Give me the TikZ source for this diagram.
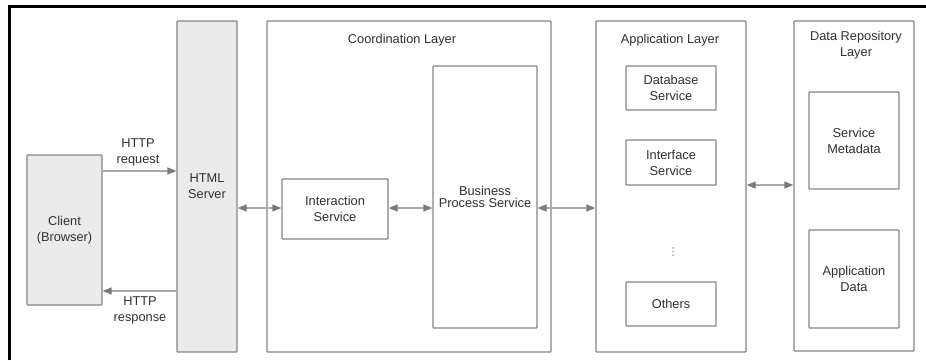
\documentclass[tikz,border=0pt]{standalone}
\usepackage{fontspec}
\setmainfont{Liberation Sans}
\newfontfamily\dejavu{DejaVu Sans}
\usetikzlibrary{arrows.meta}
\definecolor{edge}{HTML}{858585}
\definecolor{fillg}{HTML}{EBEBEB}
\definecolor{arrc}{HTML}{A8A8A8}
\definecolor{headc}{HTML}{7A7A7A}
\definecolor{txt}{HTML}{303030}
\begin{document}
\begin{tikzpicture}[x=1pt,y=-1pt,
  every node/.style={font=\fontsize{12.8}{16}\selectfont, text=txt, align=center, inner sep=0pt},
  box/.style={draw=edge, line width=1.3pt, fill=white, rounded corners=0.8pt},
  gbox/.style={box, fill=fillg},
  lbl/.style={},
  arr/.style={draw=arrc, line width=1.3pt, -{Triangle[length=9pt,width=7pt,color=headc]}},
  darr/.style={draw=arrc, line width=1.3pt, {Triangle[length=9pt,width=7pt,color=headc]}-{Triangle[length=9pt,width=7pt,color=headc]}},
  frame/.style={draw=black, line width=3pt}]
\useasboundingbox (0,0) rectangle (926,360);
% frame (top and left only)
\coordinate (f1) at (9,360);
\coordinate (f2) at (9,6);
\coordinate (f3) at (926,6);
\draw[frame] (f1) -- (f2) -- (f3);
% boxes
\node[gbox, minimum width=75, minimum height=150] (client) at (64.5,230) {Client\\(Browser)};
\node[gbox, minimum width=60, minimum height=331] (html) at (207,186.5) {HTML\\Server};
\node[box, minimum width=284, minimum height=331] (coord) at (409,186.5) {};
\node[lbl] (coordt) at (402,40) {Coordination Layer};
\node[box, minimum width=106, minimum height=60] (inter) at (335,209) {Interaction\\Service};
\node[box, minimum width=104, minimum height=262] (bps) at (485,197) {\raisebox{-4pt}{\shortstack{Business\\Process Service}}};
\node[box, minimum width=150, minimum height=331] (app) at (671,186.5) {};
\node[lbl] (appt) at (670,40) {Application Layer};
\node[box, minimum width=90, minimum height=44] (db) at (671,88) {Database\\Service};
\node[box, minimum width=90, minimum height=45] (ifs) at (671,162.5) {Interface\\Service};
\node[box, minimum width=90, minimum height=44] (oth) at (671,304) {Others};
\node[lbl, font=\dejavu\fontsize{11}{12}\selectfont, text=gray] (dots) at (673,252) {⋮};
\node[box, minimum width=120, minimum height=330] (repo) at (854,186) {};
\node[lbl] (repot) at (856,45) {Data Repository\\Layer};
\node[box, minimum width=90, minimum height=97] (meta) at (854,140.5) {Service\\Metadata};
\node[box, minimum width=90, minimum height=98] (adata) at (854,279) {Application\\Data};
% labels
\node[lbl] (reql) at (138,152) {HTTP\\request};
\node[lbl] (resl) at (140,310) {HTTP\\response};
% connectors
\coordinate (yreq) at (0,171);
\coordinate (yres) at (0,291);
\coordinate (ymid) at (0,208);
\coordinate (yrep) at (0,185);
\draw[arr] (client.east |- yreq) -- (html.west |- yreq);
\draw[arr] (html.west |- yres) -- (client.east |- yres);
\draw[darr] (html.east |- ymid) -- (inter.west |- ymid);
\draw[darr] (inter.east |- ymid) -- (bps.west |- ymid);
\draw[darr] (bps.east |- ymid) -- (app.west |- ymid);
\draw[darr] (app.east |- yrep) -- (repo.west |- yrep);
\end{tikzpicture}
\end{document}
